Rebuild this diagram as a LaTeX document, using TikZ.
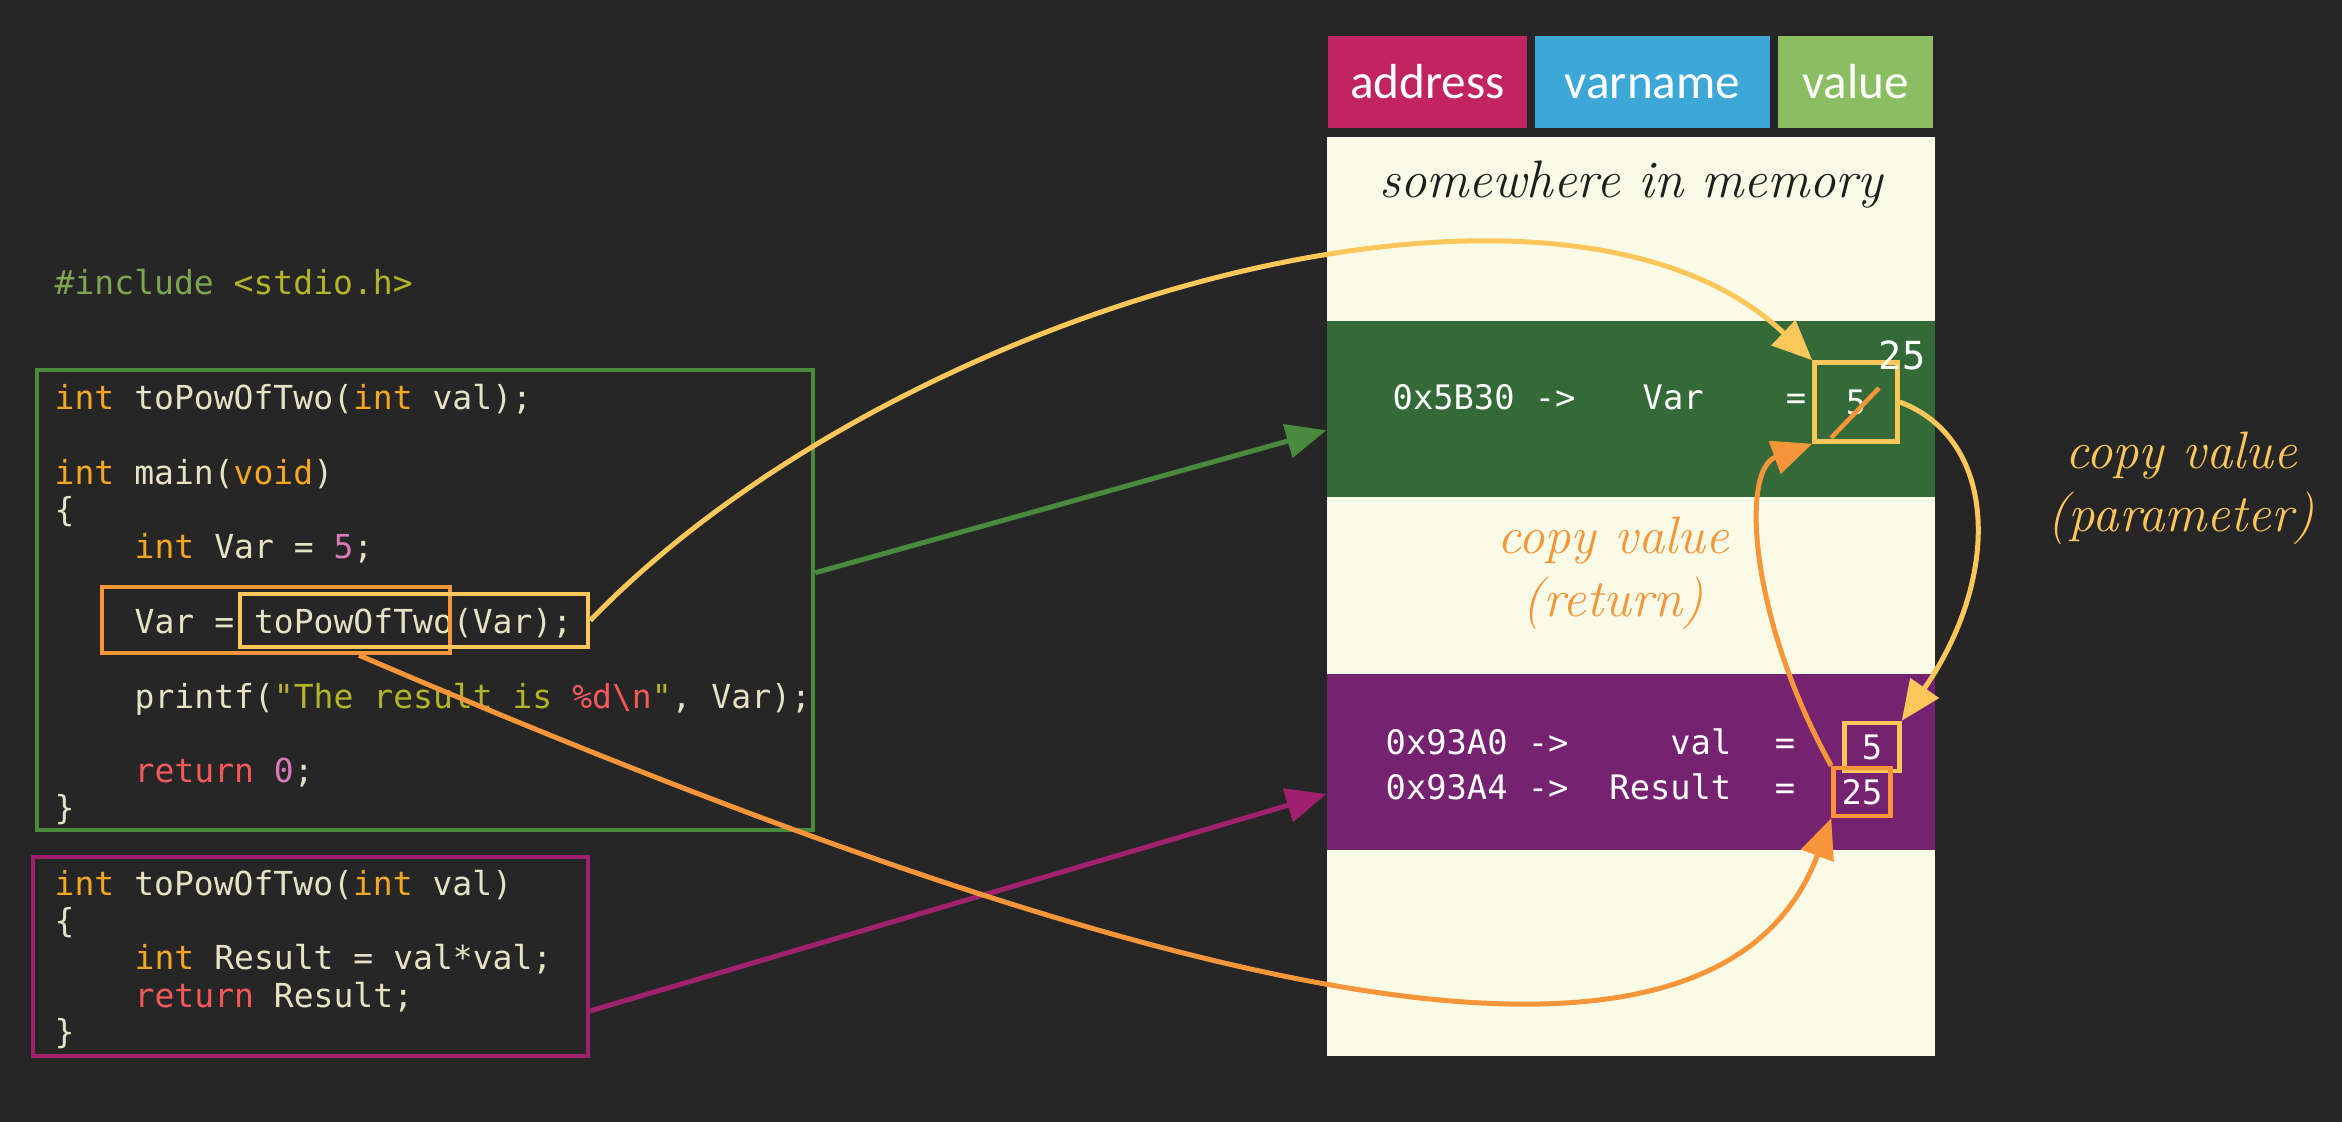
\documentclass[tikz,border=0pt]{standalone}
\usepackage{fontspec}
\setmonofont{DejaVu Sans Mono}
\newfontfamily\headfont{Carlito}
\usetikzlibrary{arrows.meta,fit}

\definecolor{bgcol}{HTML}{262626}
\definecolor{adrcol}{HTML}{C2245F}
\definecolor{namecol}{HTML}{3DA8D8}
\definecolor{valcol}{HTML}{8BBE62}
\definecolor{panelcol}{HTML}{FAFBE6}
\definecolor{rowgreen}{HTML}{336A38}
\definecolor{rowpurple}{HTML}{752271}
\definecolor{boxgreen}{HTML}{4A8A3E}
\definecolor{boxpurple}{HTML}{A0226E}
\definecolor{callcol}{HTML}{FBC65A}
\definecolor{retcol}{HTML}{F7953A}
\definecolor{codecol}{HTML}{E6E2C3}
\definecolor{kwcol}{HTML}{F5A623}
\definecolor{numcol}{HTML}{D97BB9}
\definecolor{redcol}{HTML}{F55A5A}
\definecolor{strcol}{HTML}{B4B42A}
\definecolor{inccol}{HTML}{7EA650}
\definecolor{inkcol}{HTML}{1E1E1E}

\newcommand{\codesize}{\fontsize{9.4}{11}\selectfont}
\newcommand{\ckw}[1]{\textcolor{kwcol}{#1}}
\newcommand{\cnum}[1]{\textcolor{numcol}{#1}}
\newcommand{\cret}[1]{\textcolor{redcol}{#1}}
\newcommand{\cstr}[1]{\textcolor{strcol}{#1}}
\newcommand{\cinc}[1]{\textcolor{inccol}{#1}}

\tikzset{
  codeline/.style={anchor=base west, inner sep=0, font=\codesize\ttfamily, text=codecol},
  memline/.style={anchor=base west, inner sep=0, font=\fontsize{9.6}{11}\selectfont\ttfamily, text=white},
  headbox/.style={inner sep=0, minimum height=9.2mm, text height=3.4mm, text depth=0mm, text=white,
    font=\headfont\fontsize{14}{16}\selectfont},
  hand/.style={align=center, inner sep=0, font=\fontsize{15}{18}\selectfont\itshape},
  valbox/.style={inner sep=0, line width=0.45mm, text=white, font=\fontsize{9.6}{11}\selectfont\ttfamily,
    minimum width=8.3mm, minimum height=7.9mm},
  hlbox/.style={inner sep=0, line width=0.45mm},
  arr/.style={line width=0.5mm, -{Triangle[length=4mm,width=3.4mm]}}
}

\begin{document}
\begin{tikzpicture}[x=0.1mm,y=-0.1mm]

\useasboundingbox (0,0) rectangle (2342,1122);
\fill[bgcol] (0,0) rectangle (2342,1122);

% memory
\node[headbox, fill=adrcol, minimum width=19.9mm] (hadr) at (1427.5,82) {address};
\node[headbox, fill=namecol, minimum width=23.5mm] (hname) at (1652.5,82) {varname};
\node[headbox, fill=valcol, minimum width=15.5mm] (hval) at (1855.5,82) {value};

\fill[panelcol] (1327,137) rectangle (1935,1056);
\node[hand, text=inkcol] (memtitle) at (1631,185) {somewhere in memory};
\node[fit={(1327,321) (1935,497)}, inner sep=0, fill=rowgreen] (varrow) {};
\node[fit={(1327,674) (1935,850)}, inner sep=0, fill=rowpurple] (fnrow) {};

\node[memline] (varadr) at (1392,409) {0x5B30 ->};
\node[memline] (varid) at (1642,409) {Var};
\node[memline, anchor=base] (vareq) at (1796,409) {=};
\node[valbox, draw=callcol] (varval) at (1856,402) {5};
\node[memline, anchor=base, font=\fontsize{11}{13}\selectfont\ttfamily] (varnew) at (1902,369) {25};

\node[memline] (valadr) at (1385,754) {0x93A0 ->};
\node[memline, anchor=base east] (valid) at (1732,754) {val};
\node[memline, anchor=base] (valeq) at (1785,754) {=};
\node[valbox, draw=callcol, minimum width=5.5mm, minimum height=4.8mm] (valval) at (1872,747) {5};
\node[memline] (resadr) at (1385,799) {0x93A4 ->};
\node[memline, anchor=base east] (resid) at (1732,799) {Result};
\node[memline, anchor=base] (reseq) at (1785,799) {=};
\node[valbox, draw=retcol, minimum width=5.7mm, minimum height=4.8mm] (resval) at (1862,792) {25};

\node[hand, text=retcol] (retnote) at (1613,573) {copy value\\(return)};
\node[hand, text=callcol] (parnote) at (2181,488) {copy value\\(parameter)};

% code
\node[codeline] (inc) at (54,294) {\cinc{\#include} \cstr{<stdio.h>}};

\node[codeline] (proto) at (54,409) {\ckw{int} toPowOfTwo(\ckw{int} val);};
\node[codeline] (mainhd) at (54,484) {\ckw{int} main(\ckw{void})};
\node[codeline] (mainop) at (54,521) {\{};
\node[codeline] (decl) at (134,558) {\ckw{int} Var = \cnum{5};};
\node[codeline] (call) at (134,633) {Var = toPowOfTwo(Var);};
\node[codeline] (prnt) at (134,708) {printf(\cstr{"The result is }\cret{\%d\textbackslash n}\cstr{"}, Var);};
\node[codeline] (retz) at (134,782) {\cret{return} \cnum{0};};
\node[codeline] (maincl) at (54,819) {\}};

\node[codeline] (fnhd) at (54,895) {\ckw{int} toPowOfTwo(\ckw{int} val)};
\node[codeline] (fnop) at (54,932) {\{};
\node[codeline] (fnres) at (134,969) {\ckw{int} Result = val*val;};
\node[codeline] (fnret) at (134,1007) {\cret{return} Result;};
\node[codeline] (fncl) at (54,1043) {\}};

\node[fit={(37,370) (813,830)}, hlbox, draw=boxgreen] (mainbox) {};
\node[fit={(33,857) (588,1056)}, hlbox, draw=boxpurple] (fnbox) {};
\node[fit={(102,587) (450,653)}, hlbox, draw=retcol] (retbox) {};
\node[fit={(240,594) (588,647)}, hlbox, draw=callcol] (callbox) {};

% arrows
\draw[arr, boxgreen] (mainbox.4) -- (varrow.184);
\draw[arr, boxpurple] (fnbox.-11) -- (fnrow.186);
\draw[arr, callcol] (callbox.east) .. controls (900,300) and (1560,120) .. (varval.north west);
\draw[arr, retcol] (retbox.-23) .. controls (1000,930) and (1700,1170) .. (resval.south west);
\draw[arr, retcol] (resval.north west) .. controls (1750,620) and (1740,470) .. (varval.south west);
\draw[arr, callcol] (varval.east) .. controls (2000,440) and (2000,580) .. (valval.north east);
\draw[retcol, line width=0.45mm] ([shift={(-25,36)}]varval.center) -- ([shift={(23,-14)}]varval.center);

\end{tikzpicture}
\end{document}
